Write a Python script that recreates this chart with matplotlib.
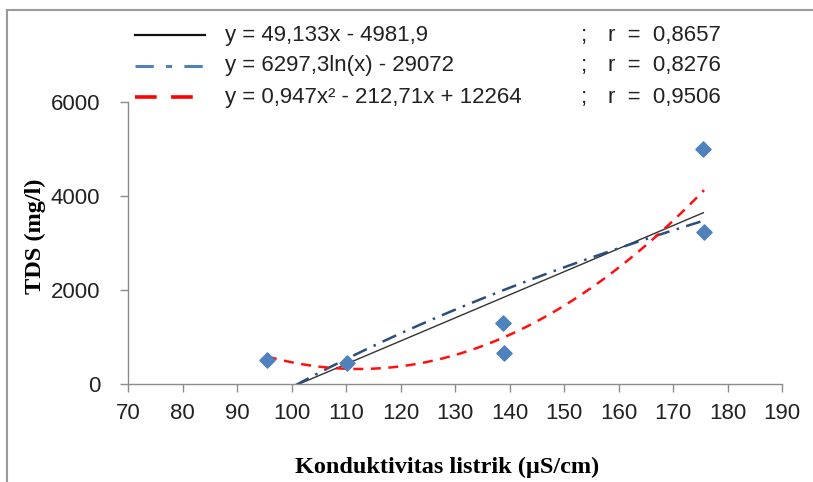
import numpy as np
import matplotlib
matplotlib.use("Agg")
import matplotlib.pyplot as plt
from matplotlib.lines import Line2D

# measured points
konduktivitas = [95.5, 110.2, 138.8, 139.0, 175.5, 175.7]
tds = [515, 450, 1295, 660, 5010, 3235]

# trendline coefficients as printed on the chart
lin_coef = [49.133, -4981.9]
log_coef = [6297.3, -29072]
poly_coef = [0.947, -212.71, 12264]

legend_eq = ["y = 49,133x - 4981,9",
             "y = 6297,3ln(x) - 29072",
             "y = 0,947x\u00b2 - 212,71x + 12264"]
legend_r = ["r  =  0,8657", "r  =  0,8276", "r  =  0,9506"]

xticks = list(range(70, 191, 10))
yticks = [0, 2000, 4000, 6000]

plt.rcParams['font.family'] = ['Liberation Sans', 'DejaVu Sans']

fig = plt.figure(figsize=(8.13, 4.82), dpi=100)
W, H = 813, 482
ax = fig.add_axes([128 / W, 1 - 384 / H, (782 - 128) / W, (384 - 102) / H])

xs = np.linspace(min(konduktivitas), max(konduktivitas), 200)
ax.plot(xs, np.polyval(lin_coef, xs), color='#333333', lw=1.0, solid_capstyle='butt')
ax.plot(xs, log_coef[0] * np.log(xs) + log_coef[1], color='#2B4E7E', lw=1.8,
        dashes=(6, 3, 1, 3))
ax.plot(xs, np.polyval(poly_coef, xs), color='#FF1010', lw=1.8, dashes=(4, 3))
ax.scatter(konduktivitas, tds, marker='D', s=60, color='#4F81BD', zorder=5)

ax.set_xlim(70, 190)
ax.set_ylim(0, 6000)
ax.set_xticks(xticks)
ax.set_yticks(yticks)
for s in ['top', 'right']:
    ax.spines[s].set_visible(False)
for s in ['left', 'bottom']:
    ax.spines[s].set_color('#8C8C8C')
    ax.spines[s].set_linewidth(1.0)
ax.tick_params(direction='out', length=6, width=1, color='#8C8C8C',
               labelsize=16, labelcolor='#222222')
ax.tick_params(axis='x', pad=8)
ax.tick_params(axis='y', pad=14)

fig.text(447 / W, 1 - 467 / H, 'Konduktivitas listrik (\u00b5S/cm)', ha='center', va='center',
         fontsize=17.5, fontweight='bold', family='Liberation Serif')
fig.text(35 / W, 1 - 236 / H, 'TDS (mg/l)', ha='center', va='center', rotation=90,
         fontsize=17.5, fontweight='bold', family='Liberation Serif')

# legend drawn by hand
rows = [35, 66, 97]
styles = [dict(color='#111111', lw=1.6),
          dict(color='#4F81BD', lw=2.2, dashes=(6, 4, 2, 4)),
          dict(color='#FF0000', lw=2.6, dashes=(6, 4))]
for y, st, eq, r in zip(rows, styles, legend_eq, legend_r):
    yf = 1 - y / H
    fig.add_artist(Line2D([135 / W, 205 / W], [yf, yf], **st))
    fig.text(225 / W, yf, eq, ha='left', va='center', fontsize=16, color='#222222')
    fig.text(581 / W, yf, ';', ha='left', va='center', fontsize=16, color='#222222')
    fig.text(608 / W, yf, r, ha='left', va='center', fontsize=16, color='#222222')

# outer frame
fig.add_artist(Line2D([7 / W, 7 / W], [0, 1 - 10 / H], color='#9A9A9A', lw=1.5))
fig.add_artist(Line2D([7 / W, 1], [1 - 10 / H, 1 - 10 / H], color='#9A9A9A', lw=1.5))

fig.savefig('out.png', dpi=100)
